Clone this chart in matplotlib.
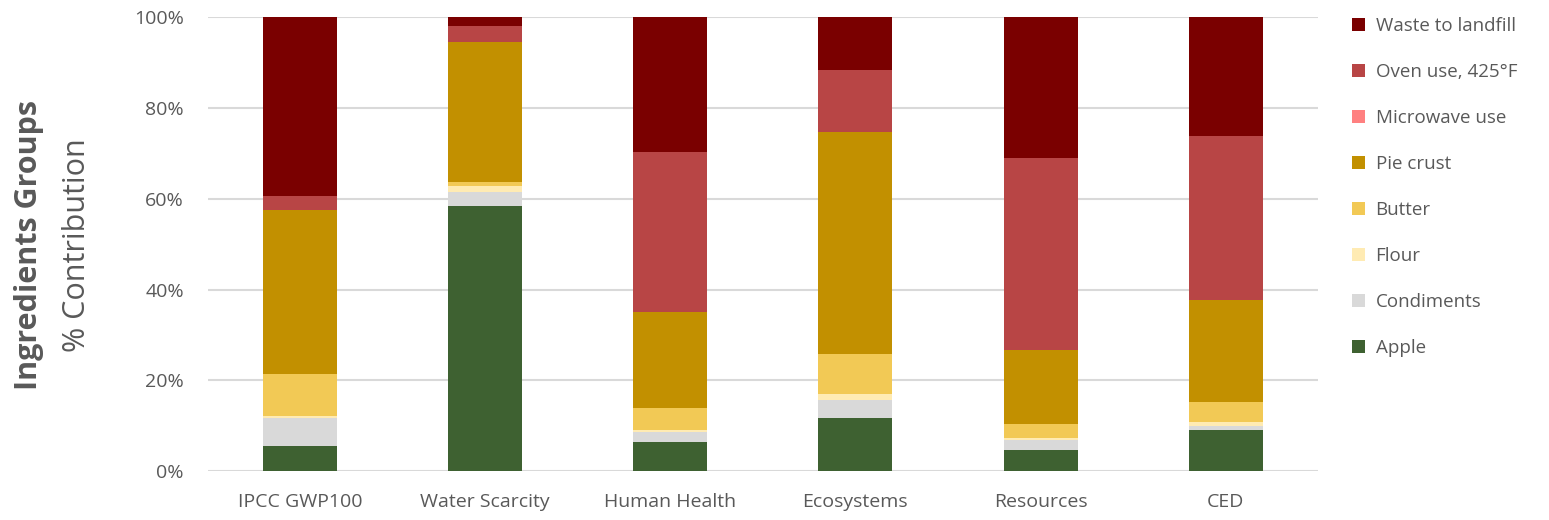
import numpy as np
import matplotlib.pyplot as plt

# Impact categories and percent contribution of each life-cycle stage
categorias = ["IPCC GWP100", "Water Scarcity", "Human Health", "Ecosystems", "Resources", "CED"]

apple      = [5.5, 58.4, 6.4, 11.7, 4.6, 9.0]
condiments = [6.2, 3.1, 2.2, 3.9, 2.2, 0.9]
flour      = [0.4, 1.3, 0.4, 1.4, 0.5, 0.9]
butter     = [9.3, 0.9, 4.9, 8.8, 3.1, 4.4]
pie_crust  = [36.1, 30.8, 21.1, 48.9, 16.3, 22.5]
microwave  = [0.0, 0.0, 0.0, 0.0, 0.0, 0.0]
oven       = [3.1, 3.5, 35.3, 13.6, 42.2, 36.1]
waste      = [39.4, 2.0, 29.7, 11.7, 31.1, 26.2]

series = [
    ("Apple", apple, "#3E6131"),
    ("Condiments", condiments, "#D9D9D9"),
    ("Flour", flour, "#FFEBB3"),
    ("Butter", butter, "#F2C955"),
    ("Pie crust", pie_crust, "#C29000"),
    ("Microwave use", microwave, "#FF8080"),
    ("Oven use, 425°F", oven, "#B84545"),
    ("Waste to landfill", waste, "#7A0000"),
]

plt.rcParams['font.family'] = ['Open Sans', 'DejaVu Sans']
cinza = "#595959"

fig = plt.figure(figsize=(15.49, 5.2), dpi=100)
ax = fig.add_axes([0.134, 0.094, 0.717, 0.873])

x = np.arange(len(categorias))
base = np.zeros(len(categorias))
handles = []
for nome, valores, cor in series:
    v = np.array(valores)
    b = ax.bar(x, v, 0.4, bottom=base, color=cor, label=nome, zorder=3)
    handles.append(b)
    base += v

ax.set_xlim(-0.5, len(categorias) - 0.5)
ax.set_ylim(0, 100)
ax.set_yticks(np.arange(0, 101, 20))
ax.set_yticklabels([f"{t}%" for t in range(0, 101, 20)])
ax.set_xticks(x)
ax.set_xticklabels(categorias)
ax.tick_params(axis='both', length=0, labelsize=14, colors=cinza)
ax.tick_params(axis='x', pad=16)
ax.tick_params(axis='y', pad=17)
ax.yaxis.grid(True, color="#D9D9D9", linewidth=1.5, zorder=0)
for s in ax.spines.values():
    s.set_visible(False)

fig.text(0.019, 0.528, "Ingredients Groups", rotation=90, fontsize=22, fontweight='bold',
         color=cinza, ha='center', va='center')
fig.text(0.050, 0.528, "% Contribution", rotation=90, fontsize=22,
         color=cinza, ha='center', va='center')

leg = fig.legend(handles[::-1], [s[0] for s in series][::-1], loc='upper left',
                 bbox_to_anchor=(0.862, 0.999), frameon=False, fontsize=13.5,
                 handlelength=0.7, handleheight=0.7, handletextpad=0.55, labelspacing=1.49)
for t in leg.get_texts():
    t.set_color(cinza)

fig.savefig("out.png", dpi=100)
